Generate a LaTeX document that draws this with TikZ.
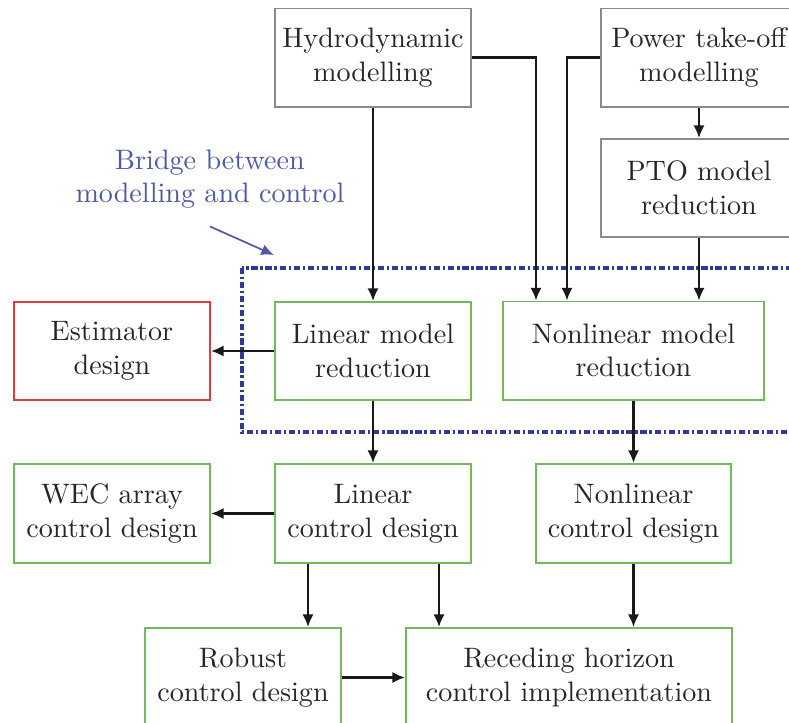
\documentclass[tikz,border=0pt]{standalone}
\usetikzlibrary{arrows.meta,calc}
\definecolor{txt}{HTML}{262626}
\definecolor{grayb}{HTML}{8A8A8A}
\definecolor{greenb}{HTML}{74B85C}
\definecolor{redb}{HTML}{E53A3C}
\definecolor{dashb}{HTML}{2E3A96}
\definecolor{lblb}{HTML}{4E58A6}
\tikzset{
  box/.style={draw, line width=0.7pt, minimum width=2.45cm, minimum height=1.225cm, inner sep=0pt, align=center, text=txt},
  graybox/.style={box, draw=grayb},
  greenbox/.style={box, draw=greenb},
  redbox/.style={box, draw=redb},
  arr/.style={-{Latex[length=4.5pt,width=4pt]}, line width=0.8pt, draw=black!90},
  bluearr/.style={-{Latex[length=4.5pt,width=4pt]}, line width=0.6pt, draw=lblb},
  bridgebox/.style={draw=dashb, line width=1.1pt, dash pattern=on 2.2pt off 1pt on 0.8pt off 1pt}
}
\begin{document}
\begin{tikzpicture}[x=0.0125cm, y=-0.0125cm]
\useasboundingbox (0,0) rectangle (789,722);
\clip (0,0) rectangle (789,722);
% dash-dot region
\draw[bridgebox] (242,268) rectangle (810,432);
% nodes
\node[graybox] (hydro) at (373,57.5) {Hydrodynamic\\modelling};
\node[graybox] (pto) at (699,57.5) {Power take-off\\modelling};
\node[graybox] (ptored) at (699,188) {PTO model\\reduction};
\node[greenbox] (linred) at (373,351) {Linear model\\reduction};
\node[greenbox, minimum width=3.2625cm] (nonlinred) at (633.5,350.5) {Nonlinear model\\reduction};
\node[redbox] (est) at (112,351) {Estimator\\design};
\node[greenbox, minimum height=1.2375cm] (wec) at (112,513.5) {WEC array\\control design};
\node[greenbox, minimum height=1.2375cm] (lincd) at (373,513.5) {Linear\\control design};
\node[greenbox, minimum width=2.4375cm, minimum height=1.2375cm] (nonlincd) at (633.5,513.5) {Nonlinear\\control design};
\node[greenbox, minimum height=1.2375cm] (robust) at (243,677.5) {Robust\\control design};
\node[greenbox, minimum width=4.075cm, minimum height=1.2375cm] (reced) at (569,677.5) {Receding horizon\\control implementation};
\node[text=lblb, align=center] (label) at (210,179) {Bridge between\\modelling and control};
\coordinate (bridgetip) at (274,255);
% connectors
\draw[arr] (hydro.south) -- (linred.north);
\draw[arr] (hydro.east) -| ([xshift=0.425cm]nonlinred.north west);
\draw[arr] (pto.west) -| ([xshift=0.8125cm]nonlinred.north west);
\draw[arr] (pto.south) -- (ptored.north);
\draw[arr] (ptored.south) -- (ptored.south |- nonlinred.north);
\draw[arr] (linred.west) -- (est.east);
\draw[arr] (linred.south) -- (lincd.north);
\draw[arr] (nonlinred.south) -- (nonlincd.north);
\draw[arr] (lincd.west) -- (wec.east);
\draw[arr] ([xshift=-0.8125cm]lincd.south) -- ([xshift=-0.8125cm]lincd.south |- robust.north);
\draw[arr] ([xshift=0.825cm]lincd.south) -- ([xshift=0.825cm]lincd.south |- reced.north);
\draw[arr] (nonlincd.south) -- (nonlincd.south |- reced.north);
\draw[arr] (robust.east) -- (reced.west);
\draw[bluearr] ([yshift=-0.1cm]label.south) -- (bridgetip);
\end{tikzpicture}
\end{document}
